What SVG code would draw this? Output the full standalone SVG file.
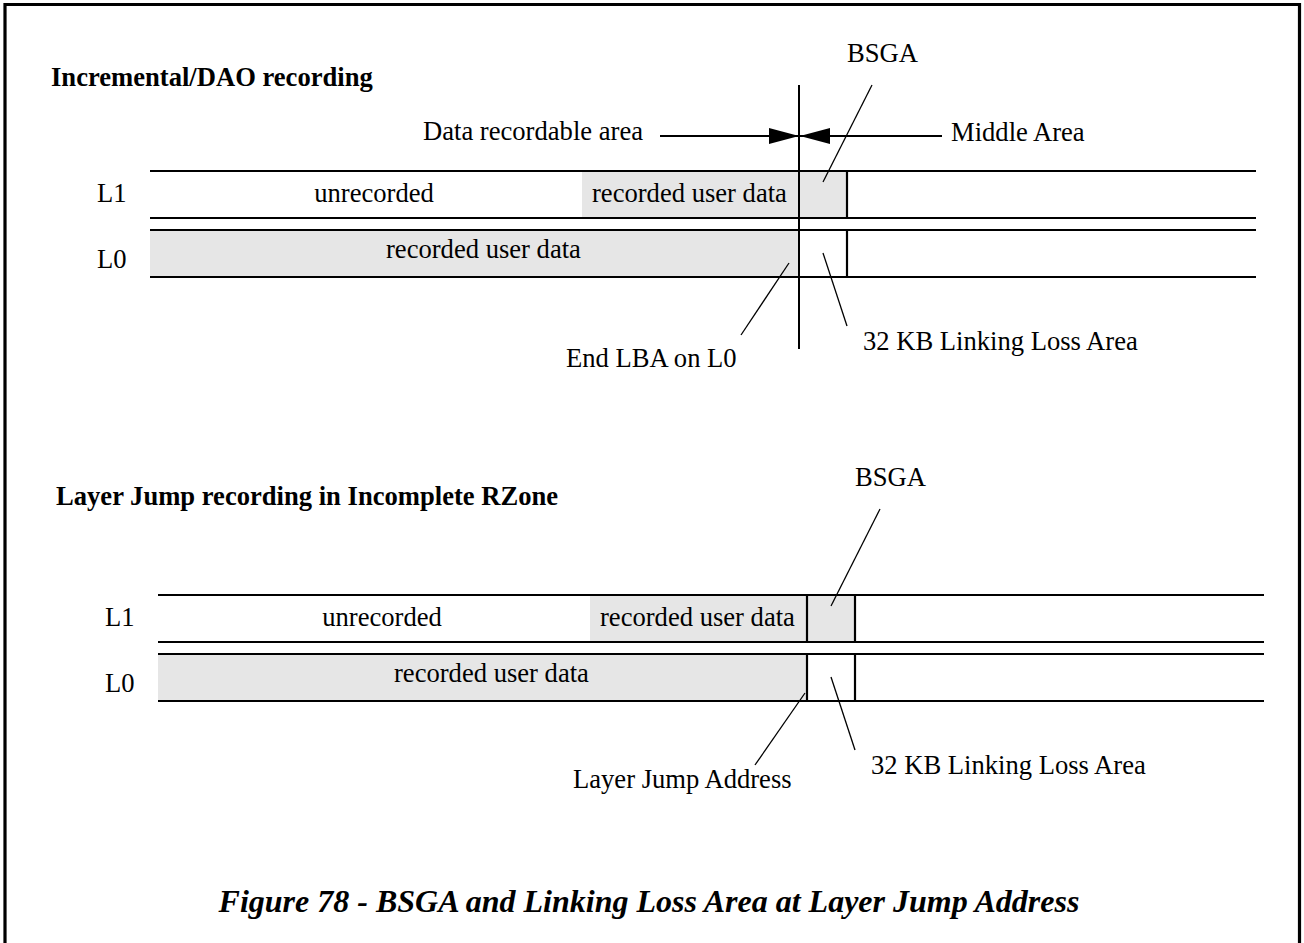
<svg xmlns="http://www.w3.org/2000/svg" width="1304" height="943" viewBox="0 0 1304 943">
<style>
text{font-family:"Liberation Serif","Times New Roman",serif;font-size:26.6px;fill:#000}
.h{font-weight:bold}
.cap{font-weight:bold;font-style:italic;font-size:32px}
.band{stroke:#000;stroke-width:2.2;fill:none}
.grey{fill:#e6e6e6;stroke:none}
.lead{stroke:#000;stroke-width:1.3;fill:none}
.thick{stroke:#000;stroke-width:2;fill:none}
</style>
<defs>
<marker id="ah" viewBox="0 0 30 16" refX="30" refY="8" markerWidth="30" markerHeight="16" markerUnits="userSpaceOnUse" orient="auto">
<path d="M0,0 L30,8 L0,16 Z" fill="#000"/>
</marker>
</defs>
<rect width="1304" height="943" fill="#fff"/>
<path d="M5,943 V4.5 H1299.5 V943" fill="none" stroke="#000" stroke-width="3.2"/>

<g id="section1">
<text class="h" x="51" y="86">Incremental/DAO recording</text>
<g id="l1-top">
<rect class="grey" x="582" y="171" width="265" height="47"/>
<line class="band" x1="150" y1="171" x2="1256" y2="171"/>
<line class="band" x1="150" y1="218" x2="1256" y2="218"/>
<line class="band" x1="847" y1="171" x2="847" y2="218"/>
<text x="97" y="202">L1</text>
<text x="374" y="202" text-anchor="middle">unrecorded</text>
<text x="592" y="202">recorded user data</text>
</g>
<g id="l0-top">
<rect class="grey" x="150" y="230" width="649" height="47"/>
<line class="band" x1="150" y1="230" x2="1256" y2="230"/>
<line class="band" x1="150" y1="277" x2="1256" y2="277"/>
<line class="band" x1="847" y1="230" x2="847" y2="277"/>
<text x="97" y="268">L0</text>
<text x="386" y="258">recorded user data</text>
</g>
<g id="labels-top">
<text x="847" y="62">BSGA</text>
<text x="643" y="140" text-anchor="end">Data recordable area</text>
<text x="951" y="141">Middle Area</text>
<text x="566" y="367">End LBA on L0</text>
<text x="863" y="350">32 KB Linking Loss Area</text>
</g>
</g>

<g id="section2">
<text class="h" x="56" y="505">Layer Jump recording in Incomplete RZone</text>
<g id="l1-bottom">
<rect class="grey" x="590" y="595" width="265" height="47"/>
<line class="band" x1="158" y1="595" x2="1264" y2="595"/>
<line class="band" x1="158" y1="642" x2="1264" y2="642"/>
<line class="band" x1="807" y1="595" x2="807" y2="642"/>
<line class="band" x1="855" y1="595" x2="855" y2="642"/>
<text x="105" y="626">L1</text>
<text x="382" y="626" text-anchor="middle">unrecorded</text>
<text x="600" y="626">recorded user data</text>
</g>
<g id="l0-bottom">
<rect class="grey" x="158" y="654" width="649" height="47"/>
<line class="band" x1="158" y1="654" x2="1264" y2="654"/>
<line class="band" x1="158" y1="701" x2="1264" y2="701"/>
<line class="band" x1="807" y1="654" x2="807" y2="701"/>
<line class="band" x1="855" y1="654" x2="855" y2="701"/>
<text x="105" y="692">L0</text>
<text x="394" y="682">recorded user data</text>
</g>
<g id="labels-bottom">
<text x="855" y="486">BSGA</text>
<text x="573" y="788">Layer Jump Address</text>
<text x="871" y="774">32 KB Linking Loss Area</text>
</g>
</g>

<g id="connectors">
<line class="thick" x1="799" y1="85" x2="799" y2="349"/>
<line class="thick" x1="660" y1="136" x2="799" y2="136" marker-end="url(#ah)"/>
<line class="thick" x1="942" y1="136" x2="800" y2="136" marker-end="url(#ah)"/>
<line class="lead" x1="872" y1="85" x2="823" y2="182"/>
<line class="lead" x1="823" y1="253" x2="847" y2="326"/>
<line class="lead" x1="789" y1="263" x2="741" y2="335"/>
<line class="lead" x1="880" y1="509" x2="831" y2="606"/>
<line class="lead" x1="831" y1="677" x2="855" y2="750"/>
<line class="lead" x1="805" y1="693" x2="755" y2="765"/>
</g>

<text class="cap" x="649" y="912" text-anchor="middle">Figure 78 - BSGA and Linking Loss Area at Layer Jump Address</text>
</svg>
